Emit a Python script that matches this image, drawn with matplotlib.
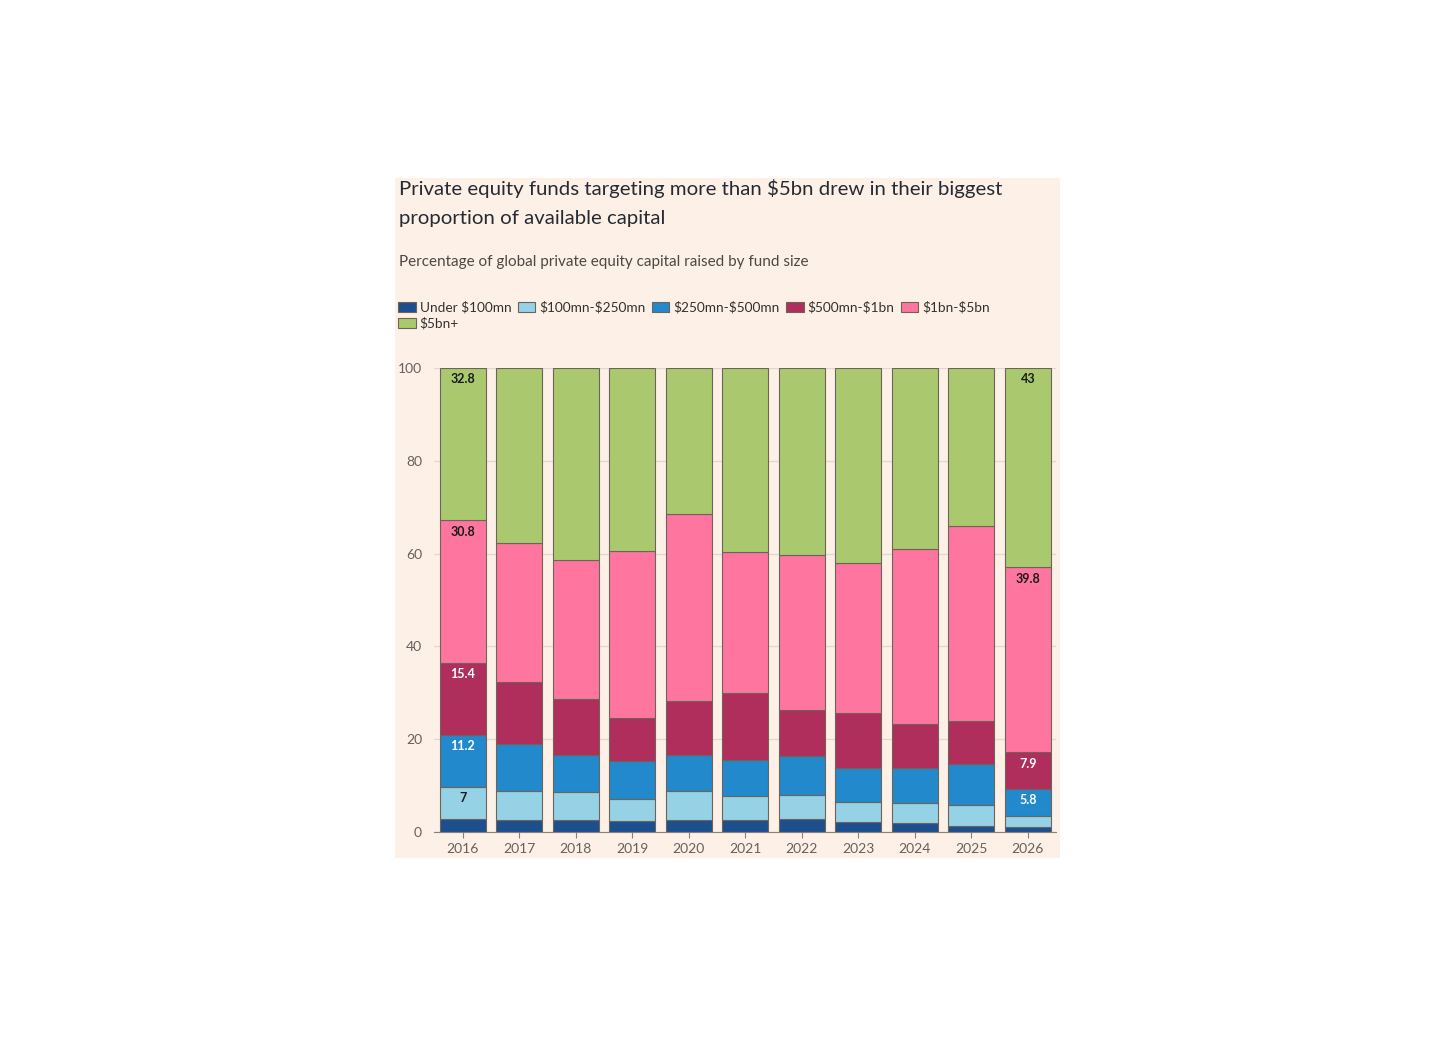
import numpy as np
import matplotlib
matplotlib.use("Agg")
import matplotlib.pyplot as plt
from matplotlib.patches import Rectangle

plt.rcParams['font.family'] = ['Lato', 'DejaVu Sans']
plt.rcParams['text.parse_math'] = False

years = ["2016", "2017", "2018", "2019", "2020", "2021",
         "2022", "2023", "2024", "2025", "2026"]
series_names = ["Under $100mn", "$100mn-$250mn", "$250mn-$500mn",
                "$500mn-$1bn", "$1bn-$5bn", "$5bn+"]

under_100mn = [2.8, 2.6, 2.5, 2.3, 2.6, 2.5, 2.8, 2.2, 1.9, 1.4, 1.1]
mn100_250 = [7.0, 6.2, 6.1, 4.8, 6.2, 5.3, 5.2, 4.3, 4.3, 4.5, 2.4]
mn250_500 = [11.2, 10.1, 7.9, 8.2, 7.9, 7.8, 8.4, 7.3, 7.6, 8.7, 5.8]
mn500_1bn = [15.4, 13.5, 12.2, 9.2, 11.5, 14.4, 9.8, 11.9, 9.5, 9.4, 7.9]
bn1_5 = [30.8, 29.9, 30.0, 36.0, 40.3, 30.3, 33.4, 32.2, 37.6, 41.9, 39.8]
bn5_plus = [32.8, 37.7, 41.3, 39.5, 31.5, 39.7, 40.4, 42.1, 39.1, 34.1, 43.0]

colors = ["#1d4f8f", "#96d2e6", "#2189cc", "#b02e5c", "#fe76a0", "#aac96f"]
label_colors = ["white", "#1a1a1a", "white", "white", "#1a1a1a", "#1a1a1a"]
labelled_years = ["2016", "2026"]

bg = "#fdf1e7"
edge = "#6e6259"
grey_text = "#66605c"

data = [under_100mn, mn100_250, mn250_500, mn500_1bn, bn1_5, bn5_plus]

fig = plt.figure(figsize=(14.56, 10.48), dpi=100)
fig.patch.set_facecolor("white")

# cream panel behind the chart
panel = Rectangle((395 / 1456, 1 - 858 / 1048), 665 / 1456, 680 / 1048,
                  transform=fig.transFigure, facecolor=bg, edgecolor="none",
                  zorder=-1)
fig.patches.append(panel)

ax = fig.add_axes([0.2984, 0.2061, 0.4269, 0.4428])
ax.set_facecolor("none")
ax.set_zorder(2)

x = np.arange(len(years))
bottom = np.zeros(len(years))
handles = []
for vals, name, col, lcol in zip(data, series_names, colors, label_colors):
    vals = np.array(vals)
    bars = ax.bar(x, vals, bottom=bottom, width=0.81, color=col,
                  edgecolor=edge, linewidth=0.8, label=name, zorder=3)
    handles.append(bars)
    # value labels only on first and last year
    for i, yr in enumerate(years):
        if yr in labelled_years and vals[i] >= 5:
            ax.annotate(f"{vals[i]:g}", xy=(x[i], bottom[i] + vals[i]),
                        xytext=(0, -8.2), textcoords="offset points",
                        ha="center", va="center", fontsize=9,
                        fontweight="bold", color=lcol, zorder=4)
    bottom += vals

ax.set_xlim(-0.5, 10.5)
ax.set_ylim(0, 100)
ax.set_yticks([0, 20, 40, 60, 80, 100])
ax.set_xticks(x)
ax.set_xticklabels(years)
ax.yaxis.grid(True, color="#e2d8ce", linewidth=1, zorder=0)
ax.set_axisbelow(True)
for s in ["top", "right", "left"]:
    ax.spines[s].set_visible(False)
ax.spines["bottom"].set_color("#8a7f78")
ax.spines["bottom"].set_zorder(5)
ax.tick_params(axis="y", length=0, pad=9, labelsize=10, labelcolor=grey_text)
ax.tick_params(axis="x", length=4, color="#8a7f78", pad=4, labelsize=10,
               labelcolor=grey_text)

fig.text(399 / 1456, 1 - 203 / 1048,
         "Private equity funds targeting more than $5bn drew in their biggest\n"
         "proportion of available capital",
         fontsize=14.7, color="#262a33", ha="left", va="center",
         linespacing=1.8)
fig.text(399 / 1456, 1 - 262 / 1048,
         "Percentage of global private equity capital raised by fund size",
         fontsize=11, color="#4d4845", ha="left", va="center")

# legend: row-major order with 5 per row
order = [0, 5, 1, 2, 3, 4]
leg = fig.legend([handles[i] for i in order], [series_names[i] for i in order],
                 ncol=5, loc="upper left",
                 bbox_to_anchor=(398 / 1456, 1 - 301 / 1048),
                 frameon=False, fontsize=9.8, handlelength=1.3,
                 handleheight=0.75, handletextpad=0.3, columnspacing=0.45,
                 labelspacing=0.25, borderaxespad=0, borderpad=0)
for t in leg.get_texts():
    t.set_color("#33302e")

fig.savefig("out.png", dpi=100, facecolor=fig.get_facecolor())
